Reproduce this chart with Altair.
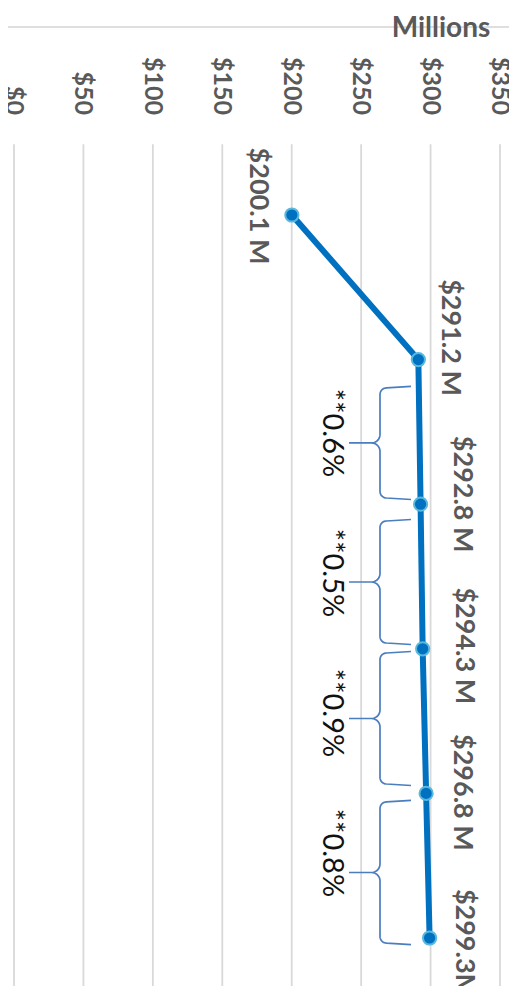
import altair as alt
import pandas as pd
import numpy as np

# ---------------- data ----------------
cat_index = [0, 1, 2, 3, 4, 5]
values = [200.1, 291.2, 292.8, 294.3, 296.8, 299.3]
value_labels = ["$200.1 M", "$291.2 M", "$292.8 M", "$294.3 M", "$296.8 M", "$299.3M"]
tick_values = [0, 50, 100, 150, 200, 250, 300, 350]
tick_labels = ["$0", "$50", "$100", "$150", "$200", "$250", "$300", "$350"]
pct_labels = ["**0.6%", "**0.5%", "**0.9%", "**0.8%"]
unit_label = "Millions"

# ---------------- layout (pixels / annotation placement) ----------------
W, H = 501, 978
PX_PER_VAL = 1.3886      # horizontal px per $1M
PX_PER_CAT = 144.6       # vertical px per category
VAL0_PAGE = 14.0         # page x of $0
CAT0_PAGE = 215.0        # page y of first category
MARGIN = 8.0


def vx(px_page):
    return (px_page - VAL0_PAGE) / PX_PER_VAL


def cy(py_page):
    return (py_page - CAT0_PAGE) / PX_PER_CAT


x_dom = [vx(MARGIN), vx(MARGIN + W)]
y_dom = [cy(MARGIN), cy(MARGIN + H)]

xs = alt.Scale(domain=x_dom, nice=False, zero=False)
ys = alt.Scale(domain=y_dom, nice=False, zero=False, reverse=True)

# data-label offsets from each point (px)
label_offsets = [(-34, -9), (32, -22), (41, -10), (41, -3), (36, -1), (34, 6)]
# brace spans in category units, percent label centres
brace_top = [1.196, 2.116, 3.029, 4.059]
brace_bot = [1.957, 2.960, 3.935, 5.035]
pct_y = [1.508, 2.476, 3.444, 4.412]

FONT = "Lato"
GRAY = "#595959"

# ---------------- frames ----------------
pts = pd.DataFrame({"i": cat_index, "v": values, "label": value_labels})
pts["lx"] = [v + dx / PX_PER_VAL for v, (dx, dy) in zip(values, label_offsets)]
pts["ly"] = [i + dy / PX_PER_CAT for i, (dx, dy) in zip(cat_index, label_offsets)]

grid = pd.DataFrame({"v": tick_values, "label": tick_labels})
grid["y1"] = -0.49
grid["y2"] = y_dom[1]
grid["ty"] = cy(115)

top_line = pd.DataFrame({"x1": [x_dom[0]], "x2": [x_dom[1]], "y": [cy(27)]})
unit_df = pd.DataFrame({"x": [vx(441)], "y": [cy(29)], "t": [unit_label]})

pct_df = pd.DataFrame({"x": [vx(332)] * 4, "y": pct_y, "t": pct_labels})


def arc(cxp, cyp, r, a0, a1, n=10):
    out = []
    for a in np.linspace(np.radians(a0), np.radians(a1), n):
        out.append((cxp + r * np.cos(a), cyp + r * np.sin(a)))
    return out


brace_rows = []
S, C, E = 380.0, 349.0, 411.0
R1, R2 = 6.5, 8.5
for k, (ti, bi) in enumerate(zip(brace_top, brace_bot)):
    t = CAT0_PAGE + ti * PX_PER_CAT
    b = CAT0_PAGE + bi * PX_PER_CAT
    m = (t + b) / 2
    path = [(E, t - 1.5)]
    path += arc(S + R1, t + R1, R1, -90, -180)
    path += arc(S - R2, m - R2, R2, 0, 90)
    path += [(C, m)]
    path += arc(S - R2, m + R2, R2, -90, 0)
    path += arc(S + R1, b - R1, R1, 180, 90)
    path += [(E, b + 1.5)]
    for o, (px, py) in enumerate(path):
        brace_rows.append({"b": k, "o": o, "x": vx(px), "y": cy(py)})
brace_df = pd.DataFrame(brace_rows)

# ---------------- layers ----------------
grid_rules = alt.Chart(grid).mark_rule(color="#d9d9d9", strokeWidth=1.8).encode(
    x=alt.X("v:Q", scale=xs, axis=None),
    y=alt.Y("y1:Q", scale=ys, axis=None),
    y2="y2:Q",
)

tick_text = alt.Chart(grid).mark_text(
    angle=90, align="right", baseline="middle", font=FONT, fontSize=25,
    fontWeight="bold", color=GRAY,
).encode(x=alt.X("v:Q", scale=xs), y=alt.Y("ty:Q", scale=ys), text="label:N")

top_rule = alt.Chart(top_line).mark_rule(color="#bfbfbf", strokeWidth=1).encode(
    x=alt.X("x1:Q", scale=xs), x2="x2:Q", y=alt.Y("y:Q", scale=ys)
)

unit_text = alt.Chart(unit_df).mark_text(
    align="center", baseline="middle", font=FONT, fontSize=28,
    fontWeight="bold", color=GRAY,
).encode(x=alt.X("x:Q", scale=xs), y=alt.Y("y:Q", scale=ys), text="t:N")

braces = alt.Chart(brace_df).mark_line(color="#4a7ebf", strokeWidth=1.7).encode(
    x=alt.X("x:Q", scale=xs), y=alt.Y("y:Q", scale=ys), detail="b:N", order="o:Q"
)

pct_text = alt.Chart(pct_df).mark_text(
    angle=90, align="center", baseline="middle", font=FONT, fontSize=29,
    color="#111111",
).encode(x=alt.X("x:Q", scale=xs), y=alt.Y("y:Q", scale=ys), text="t:N")

line = alt.Chart(pts).mark_line(color="#0070c0", strokeWidth=6).encode(
    x=alt.X("v:Q", scale=xs), y=alt.Y("i:Q", scale=ys), order="i:Q"
)

dots = alt.Chart(pts).mark_circle(
    size=175, fill="#0070c0", stroke="#5ab8dc", strokeWidth=2, opacity=1
).encode(x=alt.X("v:Q", scale=xs), y=alt.Y("i:Q", scale=ys))

val_text = alt.Chart(pts).mark_text(
    angle=90, align="center", baseline="middle", font=FONT, fontSize=27,
    fontWeight="bold", color=GRAY,
).encode(x=alt.X("lx:Q", scale=xs), y=alt.Y("ly:Q", scale=ys), text="label:N")

chart = alt.layer(
    grid_rules, top_rule, tick_text, unit_text, braces, pct_text, line, dots, val_text
).properties(
    width=W, height=H, autosize=alt.AutoSizeParams(type="none"), padding=0
).configure_view(stroke=None)

chart.save("out.html", embed_options={"renderer": "svg", "actions": False})
